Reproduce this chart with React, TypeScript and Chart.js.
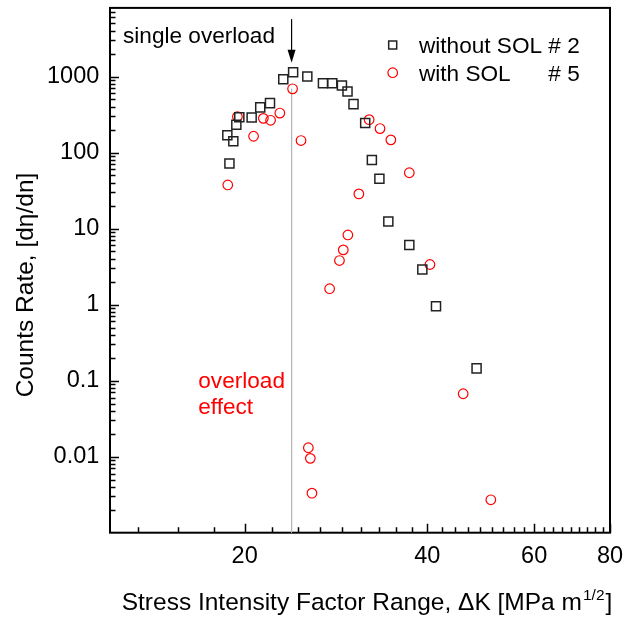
import React, { useEffect, useRef } from 'react';
import { Chart, registerables } from 'chart.js';

Chart.register(...registerables);

// ---- data ----
const withoutSOL_K = [18.73, 18.88, 19.16, 19.38, 19.6, 20.54, 21.22, 22.02, 23.16, 24.04, 25.37, 26.92, 27.89, 28.93, 29.55, 30.23, 31.6, 32.41, 33.35, 34.5, 37.36, 39.25, 41.34, 48.22];
const withoutSOL_rate = [169, 72, 141, 233, 291, 290, 393, 447, 922, 1138, 1000, 817, 817, 763, 637, 434, 245, 79.7, 45.4, 12.4, 6.1, 2.9, 0.953, 0.145];

const withSOL_K = [18.76, 19.46, 20.69, 21.47, 22.07, 22.86, 23.99, 24.77, 25.47, 25.66, 25.82, 27.61, 28.66, 29.08, 29.59, 30.85, 32.08, 33.43, 34.83, 37.36, 40.4, 45.83, 50.9];
const withSOL_rate = [37.5, 297, 164, 282, 266, 331, 690, 144, 0.0131, 0.0095, 0.00331, 1.62, 3.8, 5.25, 8.25, 28.6, 271, 207, 147, 54.3, 3.37, 0.0673, 0.00271];

const xTickLabels = [20, 40, 60, 80];
const yTickLabels = [0.01, 0.1, 1, 10, 100, 1000];
const xRange = [12, 80];
const yRange = [0.001, 8000];

const overloadK = [23.9, 23.9];
const overloadLineRate = [690, 0.001];
const arrowRate = [5700, 1520];

const FONT = "'Liberation Sans', Arial, Helvetica, sans-serif";

function xMinorTicks(): number[] {
  const out: number[] = [];
  const step = 20 / 9;
  for (let base = 0; base < 80; base += 20) {
    for (let k = 1; k <= 8; k++) {
      const v = base + k * step;
      if (v > xRange[0] && v < xRange[1]) out.push(v);
    }
  }
  return out;
}

function yMinorTicks(): number[] {
  const out: number[] = [];
  for (let d = -3; d <= 3; d++) {
    for (let m = 2; m <= 9; m++) {
      const v = m * Math.pow(10, d);
      if (v > yRange[0] && v < yRange[1]) out.push(v);
    }
  }
  return out;
}

const framePlugin = {
  id: 'frameTicks',
  beforeDatasetsDraw(chart: any) {
    const { ctx, chartArea: a } = chart;
    const xs = chart.scales.x;
    const ys = chart.scales.y;
    ctx.save();
    ctx.strokeStyle = '#000';
    ctx.lineWidth = 1.5;
    ctx.beginPath();
    for (const v of xTickLabels) {
      const px = Math.round(xs.getPixelForValue(v)) + 0.5;
      ctx.moveTo(px, a.bottom);
      ctx.lineTo(px, a.bottom - 9);
    }
    for (const v of xMinorTicks()) {
      const px = Math.round(xs.getPixelForValue(v)) + 0.5;
      ctx.moveTo(px, a.bottom);
      ctx.lineTo(px, a.bottom - 5.5);
    }
    for (const v of yTickLabels) {
      const py = Math.round(ys.getPixelForValue(v)) + 0.5;
      ctx.moveTo(a.left, py);
      ctx.lineTo(a.left + 9, py);
    }
    for (const v of yMinorTicks()) {
      const py = Math.round(ys.getPixelForValue(v)) + 0.5;
      ctx.moveTo(a.left, py);
      ctx.lineTo(a.left + 5.5, py);
    }
    ctx.stroke();
    ctx.lineWidth = 2;
    ctx.strokeRect(a.left, a.top, a.right - a.left, a.bottom - a.top);
    ctx.restore();
  },
  afterDraw(chart: any) {
    const { ctx } = chart;
    const xs = chart.scales.x;
    const ys = chart.scales.y;
    ctx.save();
    // annotation: single overload
    ctx.fillStyle = '#000';
    ctx.font = `22.6px ${FONT}`;
    ctx.textAlign = 'left';
    ctx.textBaseline = 'alphabetic';
    ctx.fillText('single overload', 123, 43.3);

    // arrow
    const ax = xs.getPixelForValue(overloadK[0]);
    const y0 = ys.getPixelForValue(arrowRate[0]);
    const y1 = ys.getPixelForValue(arrowRate[1]);
    ctx.strokeStyle = '#000';
    ctx.lineWidth = 1.2;
    ctx.beginPath();
    ctx.moveTo(ax, y0);
    ctx.lineTo(ax, y1 - 8);
    ctx.stroke();
    ctx.beginPath();
    ctx.moveTo(ax, y1);
    ctx.lineTo(ax - 4, y1 - 13);
    ctx.lineTo(ax + 4, y1 - 13);
    ctx.closePath();
    ctx.fillStyle = '#000';
    ctx.fill();

    // overload effect
    ctx.fillStyle = '#ff0000';
    ctx.font = `22.6px ${FONT}`;
    ctx.fillText('overload', 198.3, 388.3);
    ctx.fillText('effect', 198.3, 414.3);

    // legend
    ctx.fillStyle = '#000';
    ctx.font = `22.6px ${FONT}`;
    ctx.fillText('without SOL # 2', 419, 53.3);
    ctx.fillText('with SOL', 419, 81);
    ctx.textAlign = 'right';
    const w2 = ctx.measureText('without SOL # 2').width;
    ctx.fillText('# 5', 419 + w2, 81);
    ctx.strokeStyle = '#222';
    ctx.lineWidth = 1.5;
    ctx.strokeRect(388.7, 41, 8, 8);
    ctx.strokeStyle = '#ff0000';
    ctx.lineWidth = 1.2;
    ctx.beginPath();
    ctx.arc(392.7, 72.7, 4.8, 0, Math.PI * 2);
    ctx.stroke();

    // y title
    ctx.save();
    ctx.fillStyle = '#000';
    ctx.font = `24.5px ${FONT}`;
    ctx.textAlign = 'center';
    ctx.textBaseline = 'alphabetic';
    ctx.translate(33, 285);
    ctx.rotate(-Math.PI / 2);
    ctx.fillText('Counts Rate, [d\u03b7/dn]', 0, 0);
    ctx.restore();

    // x title with superscript
    ctx.fillStyle = '#000';
    ctx.textAlign = 'left';
    ctx.textBaseline = 'alphabetic';
    let x = 121.7;
    const base = 610;
    ctx.font = `24.5px ${FONT}`;
    const p1 = 'Stress Intensity Factor Range, \u0394K [MPa m';
    ctx.fillText(p1, x, base);
    x += ctx.measureText(p1).width + 1;
    ctx.font = `15.5px ${FONT}`;
    ctx.fillText('1/2', x, base - 10);
    x += ctx.measureText('1/2').width + 1;
    ctx.font = `24.5px ${FONT}`;
    ctx.fillText(']', x, base);
    ctx.restore();
  },
};

export default function App() {
  const ref = useRef<HTMLCanvasElement | null>(null);
  useEffect(() => {
    if (!ref.current) return;
    const chart = new Chart(ref.current, {
      type: 'scatter',
      data: {
        datasets: [
          {
            label: 'without SOL # 2',
            data: withoutSOL_K.map((k, i) => ({ x: k, y: withoutSOL_rate[i] })),
            pointStyle: 'rect',
            pointRadius: 6.4,
            pointBorderWidth: 1.5,
            borderColor: '#222',
            backgroundColor: 'rgba(0,0,0,0)',
            pointBackgroundColor: 'rgba(0,0,0,0)',
            pointBorderColor: '#222',
          },
          {
            label: 'with SOL # 5',
            data: withSOL_K.map((k, i) => ({ x: k, y: withSOL_rate[i] })),
            pointStyle: 'circle',
            pointRadius: 4.8,
            pointBorderWidth: 1.2,
            borderColor: '#ff0000',
            backgroundColor: 'rgba(0,0,0,0)',
            pointBackgroundColor: 'rgba(0,0,0,0)',
            pointBorderColor: '#ff0000',
          },
          {
            label: 'overload line',
            data: overloadK.map((k, i) => ({ x: k, y: overloadLineRate[i] })),
            showLine: true,
            pointRadius: 0,
            borderColor: '#b5b5b5',
            borderWidth: 1,
          } as any,
        ],
      },
      options: {
        animation: false,
        responsive: false,
        layout: { padding: { left: 0, top: 6, right: 26, bottom: 0 } },
        plugins: {
          legend: { display: false },
          tooltip: { enabled: false },
          title: { display: false },
        },
        scales: {
          x: {
            type: 'logarithmic',
            min: xRange[0],
            max: xRange[1],
            border: { display: false },
            grid: { display: false, drawTicks: false },
            afterBuildTicks: (s: any) => {
              s.ticks = xTickLabels.map((v) => ({ value: v }));
            },
            afterFit: (s: any) => {
              s.height = 86.3;
              s.paddingLeft = 0;
              s.paddingRight = 0;
            },
            ticks: {
              autoSkip: false,
              maxRotation: 0,
              padding: 10,
              color: '#000',
              font: { family: FONT, size: 23.5 },
              callback: (v: any) => String(v),
            },
          },
          y: {
            type: 'logarithmic',
            min: yRange[0],
            max: yRange[1],
            border: { display: false },
            grid: { display: false, drawTicks: false },
            afterBuildTicks: (s: any) => {
              s.ticks = yTickLabels.map((v) => ({ value: v }));
            },
            afterFit: (s: any) => {
              s.width = 110;
              s.paddingTop = 0;
              s.paddingBottom = 0;
            },
            ticks: {
              autoSkip: false,
              padding: 10.7,
              color: '#000',
              font: { family: FONT, size: 23.5 },
              callback: (v: any) => String(v),
            },
          },
        },
      },
      plugins: [framePlugin],
    });
    return () => chart.destroy();
  }, []);
  return (
    <div style={{ position: 'absolute', left: 0, top: 0, width: 636, height: 619, background: '#fff' }}>
      <canvas ref={ref} width={636} height={619} />
    </div>
  );
}
